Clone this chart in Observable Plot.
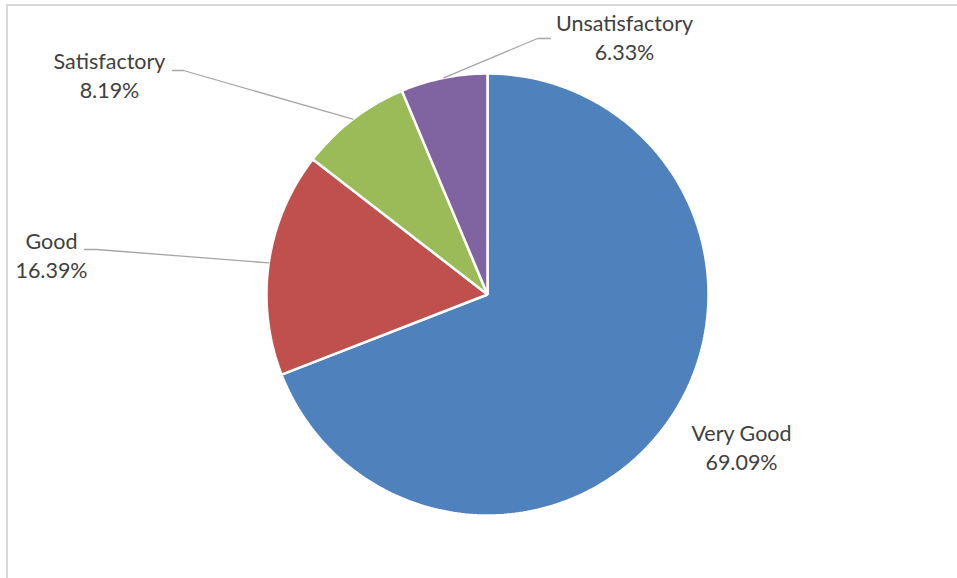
<!DOCTYPE html>
<html>
<head>
<meta charset="utf-8">
<script src="https://cdn.jsdelivr.net/npm/d3@7"></script>
<script src="https://cdn.jsdelivr.net/npm/@observablehq/plot@0.6"></script>
<style>
  html, body { margin: 0; padding: 0; background: #fff; }
  #wrap { position: relative; width: 957px; height: 578px; overflow: hidden; }
  #border { position: absolute; left: 6px; top: 4px; width: 1000px; height: 1000px;
            border-left: 2px solid #d9d9d9; border-top: 2px solid #d9d9d9; pointer-events: none; }
</style>
</head>
<body>
<div id="wrap"><div id="border"></div></div>
<script>
// ---- data ----
const categories = ["Very Good", "Good", "Satisfactory", "Unsatisfactory"];
const shares = [69.09, 16.39, 8.19, 6.33];
const colors = ["#4F81BD", "#C0504D", "#9BBB59", "#8064A2"];

// ---- layout (pixel geometry of the picture) ----
const W = 957, H = 578;
const CX = 487, CY = 294, R = 221;
// label block centres and leader elbow points (pixels); null = no leader
const labelLayout = [
  {name: "Very Good",      lx: 741, ly: 446, elbow: null},
  {name: "Good",           lx: 51,  ly: 254, elbow: [[84, 249], [96, 249]]},
  {name: "Satisfactory",   lx: 109, ly: 74,  elbow: [[172, 70], [183, 70]]},
  {name: "Unsatisfactory", lx: 624, ly: 36,  elbow: [[550, 38], [537, 38]]}
];
const toX = px => (px - CX) / R;
const toY = py => (CY - py) / R;

// ---- pie geometry from shares ----
const total = d3.sum(shares);
let acc = 0;
const slices = categories.map((name, i) => {
  const a0 = acc / total * 2 * Math.PI;
  acc += shares[i];
  const a1 = acc / total * 2 * Math.PI;
  return {name, share: shares[i], a0, a1, mid: (a0 + a1) / 2};
});
const pt = (a, r) => ({x: Math.sin(a) * r, y: Math.cos(a) * r});

const sliceRows = [];
for (const s of slices) {
  sliceRows.push({name: s.name, ...pt(0, 0)});
  const n = Math.max(4, Math.ceil((s.a1 - s.a0) / (Math.PI / 180)));
  for (let k = 0; k <= n; k++) {
    const a = s.a0 + (s.a1 - s.a0) * k / n;
    sliceRows.push({name: s.name, ...pt(a, 1)});
  }
}

const leaderRows = [];
const labelRows = [];
for (const L of labelLayout) {
  const s = slices.find(d => d.name === L.name);
  labelRows.push({name: s.name, share: s.share, x: toX(L.lx), y: toY(L.ly)});
  if (L.elbow) {
    for (const [px, py] of L.elbow) leaderRows.push({name: s.name, x: toX(px), y: toY(py)});
    leaderRows.push({name: s.name, ...pt(s.mid, 1)});
  }
}

const chart = Plot.plot({
  width: W,
  height: H,
  margin: 0,
  x: {domain: [toX(0), toX(W)], axis: null},
  y: {domain: [toY(H), toY(0)], axis: null},
  color: {domain: categories, range: colors},
  style: {background: "transparent"},
  marks: [
    Plot.line(sliceRows, {x: "x", y: "y", z: "name", fill: "name", stroke: "white",
      strokeWidth: 2.5, strokeLinejoin: "miter", curve: "linear-closed"}),
    Plot.line(leaderRows, {x: "x", y: "y", z: "name", stroke: "#A6A6A6", strokeWidth: 1.3}),
    Plot.text(labelRows, {x: "x", y: "y",
      text: d => `${d.name}\n${d.share.toFixed(2)}%`,
      fontSize: 21.5, lineHeight: 1.33, fill: "#404040",
      fontFamily: "Lato, 'Open Sans', sans-serif"})
  ]
});
document.getElementById("wrap").prepend(chart);
</script>
</body>
</html>
